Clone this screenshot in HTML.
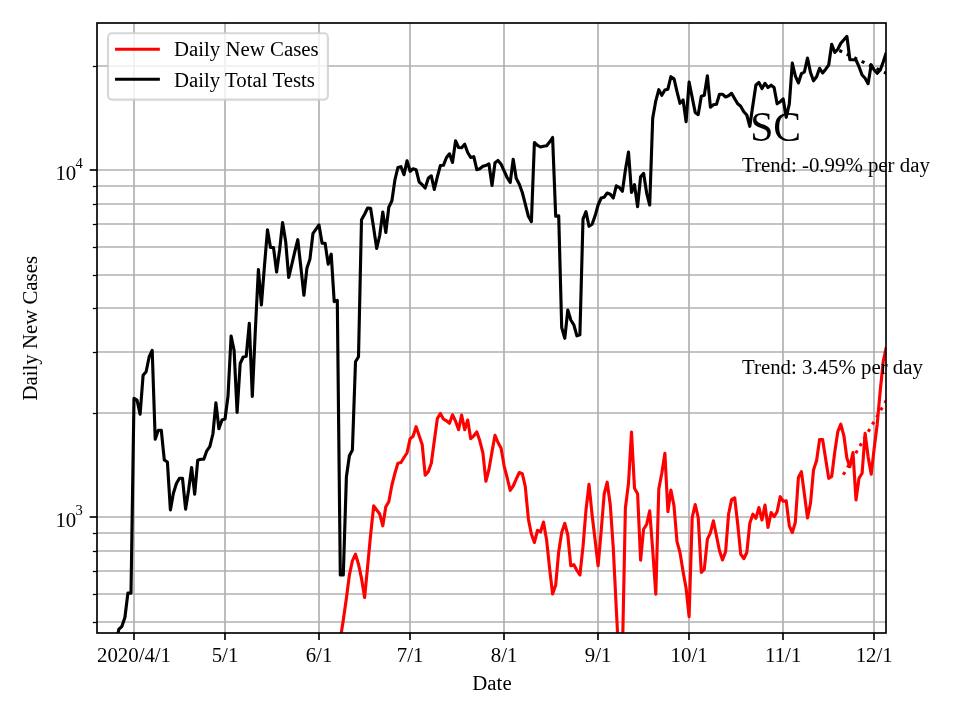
<!DOCTYPE html>
<html><head><meta charset="utf-8"><title>SC</title>
<style>
html,body{margin:0;padding:0;background:#fff;}
body{width:960px;height:720px;overflow:hidden;}
svg{display:block;}
text{font-family:"Liberation Serif",serif;fill:#000;}
svg{will-change:transform;}
</style></head><body>
<svg width="960" height="720" viewBox="0 0 960 720">
<rect x="0" y="0" width="960" height="720" fill="#fff"/>
<defs><clipPath id="ax"><rect x="97.0" y="23.0" width="789.0" height="610.0"/></clipPath></defs>

<g stroke="#b0b0b0" stroke-width="1.67" fill="none" clip-path="url(#ax)">
<line x1="134" y1="23" x2="134" y2="633"/>
<line x1="225" y1="23" x2="225" y2="633"/>
<line x1="319" y1="23" x2="319" y2="633"/>
<line x1="410" y1="23" x2="410" y2="633"/>
<line x1="504" y1="23" x2="504" y2="633"/>
<line x1="598" y1="23" x2="598" y2="633"/>
<line x1="689" y1="23" x2="689" y2="633"/>
<line x1="783" y1="23" x2="783" y2="633"/>
<line x1="874" y1="23" x2="874" y2="633"/>
<line x1="97" y1="622.0" x2="886" y2="622.0"/>
<line x1="97" y1="594.0" x2="886" y2="594.0"/>
<line x1="97" y1="571.0" x2="886" y2="571.0"/>
<line x1="97" y1="551.0" x2="886" y2="551.0"/>
<line x1="97" y1="533.0" x2="886" y2="533.0"/>
<line x1="97" y1="517.0" x2="886" y2="517.0"/>
<line x1="97" y1="413.0" x2="886" y2="413.0"/>
<line x1="97" y1="352.0" x2="886" y2="352.0"/>
<line x1="97" y1="308.0" x2="886" y2="308.0"/>
<line x1="97" y1="275.0" x2="886" y2="275.0"/>
<line x1="97" y1="247.0" x2="886" y2="247.0"/>
<line x1="97" y1="224.0" x2="886" y2="224.0"/>
<line x1="97" y1="204.0" x2="886" y2="204.0"/>
<line x1="97" y1="186.0" x2="886" y2="186.0"/>
<line x1="97" y1="170.0" x2="886" y2="170.0"/>
<line x1="97" y1="66.0" x2="886" y2="66.0"/>
</g>
<g fill="none" stroke-width="3.125" stroke-linejoin="round" stroke-linecap="butt" clip-path="url(#ax)">
<polyline stroke="#ff0000" points="340.3,639.3 343.3,620.0 346.4,598.3 349.4,575.0 352.4,560.8 355.5,554.2 358.5,564.2 361.5,578.3 364.6,597.5 367.6,566.7 370.6,535.0 373.7,505.8 376.7,510.0 379.7,514.0 382.8,525.8 385.8,506.7 388.8,501.7 391.9,485.0 394.9,473.3 397.9,463.3 401.0,462.5 404.0,457.5 407.0,453.0 410.1,438.7 413.1,436.3 416.1,426.7 419.2,435.8 422.2,444.7 425.2,475.3 428.3,471.7 431.3,463.3 434.3,440.8 437.4,418.3 440.4,413.5 443.4,419.0 446.5,420.8 449.5,423.3 452.5,414.8 455.6,421.2 458.6,429.7 461.6,415.0 464.7,429.7 467.7,420.0 470.7,438.7 473.8,435.8 476.8,432.0 479.8,440.8 482.9,453.0 485.9,481.3 488.9,469.7 492.0,451.7 495.0,435.3 498.0,442.5 501.1,448.3 504.1,465.8 507.1,477.5 510.2,490.3 513.2,486.0 516.2,479.2 519.3,472.5 522.3,473.7 525.3,486.7 528.4,519.2 531.4,534.2 534.4,542.5 537.5,530.3 540.5,532.0 543.5,522.0 546.6,540.0 549.6,568.3 552.6,594.0 555.7,585.0 558.7,551.7 561.7,532.5 564.8,523.3 567.8,535.0 570.8,565.8 573.9,564.7 576.9,570.5 579.9,575.0 583.0,546.7 586.0,510.0 589.0,484.2 592.1,515.0 595.1,540.0 598.1,565.8 601.2,530.8 604.2,494.0 607.2,482.2 610.3,505.0 613.3,548.3 616.3,609.0 619.4,668.0 622.4,655.0 625.4,508.0 628.5,483.3 631.5,432.0 634.5,488.3 637.6,493.8 640.6,560.3 643.6,529.2 646.7,524.2 649.7,510.8 652.7,550.0 655.8,594.2 658.8,489.0 661.8,473.3 664.9,453.3 667.9,511.7 670.9,490.0 674.0,505.8 677.0,541.7 680.0,552.5 683.1,571.7 686.1,588.3 689.1,616.7 692.2,517.5 695.2,504.5 698.2,517.5 701.3,572.5 704.3,569.2 707.4,539.2 710.4,532.8 713.4,520.8 716.5,536.0 719.5,550.8 722.5,560.0 725.6,551.7 728.6,514.0 731.6,499.6 734.7,497.8 737.7,524.0 740.7,554.2 743.8,558.7 746.8,552.5 749.8,523.3 752.9,514.2 755.9,518.3 758.9,507.5 762.0,520.0 765.0,505.0 768.0,527.5 771.1,512.5 774.1,516.7 777.1,511.7 780.2,496.7 783.2,501.3 786.2,500.8 789.3,525.8 792.3,532.5 795.3,522.5 798.4,477.5 801.4,471.7 804.4,494.2 807.5,518.0 810.5,503.3 813.5,470.0 816.6,460.5 819.6,439.5 822.6,439.5 825.7,459.2 828.7,478.3 831.7,476.5 834.8,451.7 837.8,431.7 840.8,424.2 843.9,435.8 846.9,458.3 849.9,466.7 853.0,452.5 856.0,500.0 859.0,478.3 862.1,473.3 865.1,433.3 868.1,456.7 871.2,474.2 874.2,448.3 877.2,424.2 880.3,390.0 883.3,361.0 886.3,347.0"/>
<polyline stroke="#000000" points="115.8,645.0 118.8,629.4 121.9,626.3 124.9,617.5 127.9,593.1 131.0,593.1 134.0,398.3 137.0,400.0 140.1,414.2 143.1,375.3 146.1,371.7 149.2,356.7 152.2,350.3 155.2,439.2 158.3,430.3 161.3,430.3 164.3,460.0 167.4,462.0 170.4,510.0 173.4,493.3 176.5,483.3 179.5,478.3 182.5,478.3 185.6,509.2 188.6,490.0 191.6,467.5 194.7,494.2 197.7,460.3 200.7,459.2 203.8,459.2 206.8,450.8 209.8,446.7 212.9,434.0 215.9,402.8 218.9,428.7 222.0,420.0 225.0,419.0 228.0,396.3 231.1,336.0 234.1,350.4 237.1,412.5 240.2,363.5 243.2,357.0 246.2,356.3 249.3,323.3 252.3,396.5 255.3,331.0 258.4,269.5 261.4,305.0 264.4,266.7 267.5,229.7 270.5,247.5 273.5,247.5 276.6,272.0 279.6,250.0 282.6,222.5 285.7,241.7 288.7,277.5 291.7,265.0 294.8,251.7 297.8,239.7 300.8,266.7 303.9,295.3 306.9,268.3 309.9,259.2 313.0,233.3 316.0,229.2 319.0,225.0 322.1,243.3 325.1,243.3 328.2,264.2 331.2,254.2 334.2,301.7 337.3,300.3 340.3,575.0 343.3,575.0 346.4,476.7 349.4,455.8 352.4,450.0 355.5,361.7 358.5,356.7 361.5,219.7 364.6,214.2 367.6,208.0 370.6,208.3 373.7,228.3 376.7,248.5 379.7,235.5 382.8,212.0 385.8,232.5 388.8,207.2 391.9,200.8 394.9,180.0 397.9,167.5 401.0,166.7 404.0,174.7 407.0,160.8 410.1,171.3 413.1,168.7 416.1,169.7 419.2,182.0 422.2,184.7 425.2,188.0 428.3,178.3 431.3,175.8 434.3,189.5 437.4,176.7 440.4,165.5 443.4,165.3 446.5,157.5 449.5,153.8 452.5,162.5 455.6,140.8 458.6,147.5 461.6,147.8 464.7,144.2 467.7,152.5 470.7,157.5 473.8,156.7 476.8,169.7 479.8,168.7 482.9,166.3 485.9,165.5 488.9,163.8 492.0,185.5 495.0,162.8 498.0,160.5 501.1,164.2 504.1,170.8 507.1,177.5 510.2,182.5 513.2,159.2 516.2,178.3 519.3,184.2 522.3,192.5 525.3,204.2 528.4,216.3 531.4,221.7 534.4,142.5 537.5,145.3 540.5,147.0 543.5,146.3 546.6,145.8 549.6,142.0 552.6,137.5 555.7,216.3 558.7,215.8 561.7,327.5 564.8,338.3 567.8,310.0 570.8,320.0 573.9,325.0 576.9,335.8 579.9,334.7 583.0,219.2 586.0,211.7 589.0,226.3 592.1,224.2 595.1,215.8 598.1,205.0 601.2,198.0 604.2,197.2 607.2,193.0 610.3,194.2 613.3,198.0 616.3,185.8 619.4,187.5 622.4,191.3 625.4,170.0 628.5,152.0 631.5,192.5 634.5,184.7 637.6,206.7 640.6,176.7 643.6,173.3 646.7,193.3 649.7,205.0 652.7,118.3 655.8,100.8 658.8,89.7 661.8,95.3 664.9,90.0 667.9,89.2 670.9,76.7 674.0,78.7 677.0,91.7 680.0,103.3 683.1,100.0 686.1,121.7 689.1,82.0 692.2,97.5 695.2,112.5 698.2,114.7 701.3,96.3 704.3,95.3 707.4,75.8 710.4,107.2 713.4,104.7 716.5,104.2 719.5,94.2 722.5,94.2 725.6,97.0 728.6,95.8 731.6,93.3 734.7,98.7 737.7,103.8 740.7,106.3 743.8,111.7 746.8,115.0 749.8,126.3 752.9,105.0 755.9,85.0 758.9,82.5 762.0,88.5 765.0,83.3 768.0,87.5 771.1,85.2 774.1,87.5 777.1,103.8 780.2,101.7 783.2,99.0 786.2,117.3 789.3,104.2 792.3,63.0 795.3,75.8 798.4,83.0 801.4,73.7 804.4,72.0 807.5,58.0 810.5,72.5 813.5,80.8 816.6,76.7 819.6,68.3 822.6,73.0 825.7,69.2 828.7,65.0 831.7,44.2 834.8,52.5 837.8,49.2 840.8,43.3 843.9,39.7 846.9,36.3 849.9,59.7 853.0,59.7 856.0,60.0 859.0,66.7 862.1,75.0 865.1,78.3 868.1,83.7 871.2,64.7 874.2,70.0 877.2,73.3 880.3,70.0 883.3,61.7 886.3,52.5"/>
<line stroke="#ff0000" stroke-dasharray="3.125 5.156" x1="843.3" y1="474.7" x2="886.5" y2="400.2"/>
<line stroke="#000000" stroke-dasharray="3.125 5.156" x1="839.3" y1="50.5" x2="886.5" y2="73.4"/>
</g>
<rect x="97" y="23" width="789.0" height="610.0" fill="none" stroke="#000" stroke-width="1.67"/>
<g stroke="#000" stroke-width="1.67">
<line x1="134" y1="633" x2="134" y2="640.1"/>
<line x1="225" y1="633" x2="225" y2="640.1"/>
<line x1="319" y1="633" x2="319" y2="640.1"/>
<line x1="410" y1="633" x2="410" y2="640.1"/>
<line x1="504" y1="633" x2="504" y2="640.1"/>
<line x1="598" y1="633" x2="598" y2="640.1"/>
<line x1="689" y1="633" x2="689" y2="640.1"/>
<line x1="783" y1="633" x2="783" y2="640.1"/>
<line x1="874" y1="633" x2="874" y2="640.1"/>
<line x1="97" y1="517.0" x2="89.7" y2="517.0"/>
<line x1="97" y1="170.0" x2="89.7" y2="170.0"/>
</g><g stroke="#000" stroke-width="1.25">
<line x1="97" y1="622.5" x2="92.8" y2="622.5"/>
<line x1="97" y1="594.5" x2="92.8" y2="594.5"/>
<line x1="97" y1="571.5" x2="92.8" y2="571.5"/>
<line x1="97" y1="551.5" x2="92.8" y2="551.5"/>
<line x1="97" y1="533.5" x2="92.8" y2="533.5"/>
<line x1="97" y1="413.5" x2="92.8" y2="413.5"/>
<line x1="97" y1="352.5" x2="92.8" y2="352.5"/>
<line x1="97" y1="308.5" x2="92.8" y2="308.5"/>
<line x1="97" y1="275.5" x2="92.8" y2="275.5"/>
<line x1="97" y1="247.5" x2="92.8" y2="247.5"/>
<line x1="97" y1="224.5" x2="92.8" y2="224.5"/>
<line x1="97" y1="204.5" x2="92.8" y2="204.5"/>
<line x1="97" y1="186.5" x2="92.8" y2="186.5"/>
<line x1="97" y1="66.5" x2="92.8" y2="66.5"/>
</g>
<g font-size="20.83" text-anchor="middle">
<text x="134.0" y="661.7">2020/4/1</text>
<text x="225.0" y="661.7">5/1</text>
<text x="319.0" y="661.7">6/1</text>
<text x="410.1" y="661.7">7/1</text>
<text x="504.1" y="661.7">8/1</text>
<text x="598.1" y="661.7">9/1</text>
<text x="689.1" y="661.7">10/1</text>
<text x="783.2" y="661.7">11/1</text>
<text x="874.2" y="661.7">12/1</text>
<text x="492" y="690">Date</text>
<text transform="translate(37.2,328.3) rotate(-90)" x="0" y="0">Daily New Cases</text>
</g>
<text x="55.4" y="526.8" font-size="20.83">10</text>
<text x="75.6" y="514.8" font-size="14.58">3</text>
<text x="55.4" y="179.8" font-size="20.83">10</text>
<text x="75.6" y="167.8" font-size="14.58">4</text>
<rect x="108" y="33.2" width="219.9" height="66.4" rx="4" ry="4" fill="#fff" fill-opacity="0.8" stroke="#cccccc" stroke-opacity="0.8" stroke-width="2.08"/>
<line x1="116.6" y1="49.3" x2="158.3" y2="49.3" stroke="#f00" stroke-width="3.125" stroke-linecap="square"/>
<line x1="116.6" y1="79.2" x2="158.3" y2="79.2" stroke="#000" stroke-width="3.125" stroke-linecap="square"/>
<text x="174" y="56.3" font-size="20.83">Daily New Cases</text>
<text x="174" y="86.8" font-size="20.83">Daily Total Tests</text>
<text x="750.2" y="141.2" font-size="41.67">SC</text>
<text x="742" y="171.8" font-size="20.83">Trend: -0.99% per day</text>
<text x="742" y="373.8" font-size="20.83">Trend: 3.45% per day</text>
</svg></body></html>
